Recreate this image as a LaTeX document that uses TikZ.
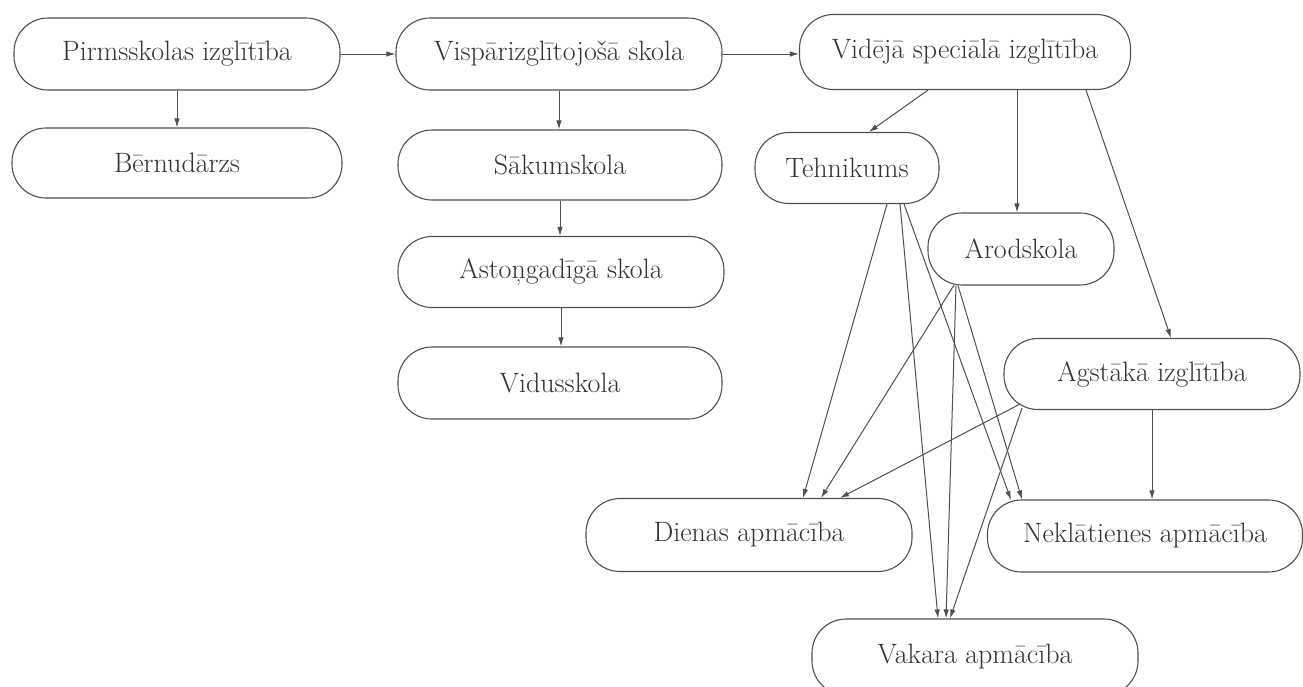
\documentclass[tikz,border=0pt]{standalone}
\usepackage{fontspec}
\usetikzlibrary{arrows.meta,calc}
\definecolor{ink}{HTML}{333333}
\definecolor{edge}{HTML}{505050}
\tikzset{
  pill/.style={draw=edge, line width=1.1pt, rounded corners=34pt, inner sep=0pt,
    minimum height=72pt, text=ink,
    font=\fontsize{28}{32}\selectfont\addfontfeature{FakeBold=0.4}},
  conn/.style={draw=edge, line width=1.0pt, -{Latex[length=9pt,width=5.5pt]}}
}
\begin{document}
\begin{tikzpicture}[x=1pt,y=-1pt]
\useasboundingbox[fill=white] (0,0) rectangle (1303,686);
% left column
\node[pill, minimum width=326pt] (P) at (177,54) {Pirmsskolas izglītība};
\node[pill, minimum width=330pt, minimum height=70pt] (B) at (177,163) {Bērnudārzs};
% middle column
\node[pill, minimum width=326pt] (V) at (559,54) {Vispārizglītojošā skola};
\node[pill, minimum width=324pt, minimum height=70pt] (S) at (560,165) {Sākumskola};
\node[pill, minimum width=326pt, minimum height=71pt] (A) at (561,272) {Astoņgadīgā skola};
\node[pill, minimum width=324pt] (Vd) at (560,383) {Vidusskola};
% right part
\node[pill, minimum width=331pt, minimum height=75pt] (VS) at (965,52) {Vidējā speciālā izglītība};
\node[pill, minimum width=184pt, minimum height=71pt] (T) at (847,168) {Tehnikums};
\node[pill, minimum width=186pt] (Ar) at (1021,249) {Arodskola};
\node[pill, minimum width=296pt, minimum height=71pt] (Ag) at (1152,374) {Agstākā izglītība};
\node[pill, minimum width=326pt, minimum height=73pt] (D) at (749,535) {Dienas apmācība};
\node[pill, minimum width=315pt] (N) at (1145,536) {Neklātienes apmācība};
\node[pill, minimum width=326pt, minimum height=76pt] (Vk) at (975,657) {Vakara apmācība};
% top row connectors
\draw[conn] (P.east) -- (V.west);
\draw[conn] (V.east) -- (V.east -| VS.west);
\draw[conn] (P.south) -- (P.south |- B.north);
\draw[conn] (V.south) -- (V.south |- S.north);
\draw[conn] (S.south) -- (S.south |- A.north);
\draw[conn] (A.south) -- (A.south |- Vd.north);
% from Videja speciala
\draw[conn] ([xshift=-37pt]VS.south) -- ([xshift=22pt]T.north);
\draw[conn] ([xshift=52pt]VS.south) -- ([xshift=52pt]VS.south |- Ar.north);
\draw[conn] ([xshift=121pt]VS.south) -- ([xshift=19pt]Ag.north);
% from Tehnikums
\draw[conn] ([xshift=40pt]T.south) -- ([xshift=54pt]D.north);
\draw[conn] ([xshift=53pt]T.south) -- ([xshift=-37pt]Vk.north);
\draw[conn] ([xshift=57pt]T.south) -- ([xshift=-134pt,yshift=-0.5pt]N.north);
% from Arodskola
\draw[conn] ([xshift=-67pt,yshift=0.5pt]Ar.south) -- ([xshift=72pt]D.north);
\draw[conn] ([xshift=-65pt]Ar.south) -- ([xshift=-29pt]Vk.north);
\draw[conn] ([xshift=-63pt]Ar.south) -- ([xshift=-123pt]N.north);
% from Agstaka
\draw[conn] ([xshift=-132pt,yshift=6pt]Ag.south) -- ([xshift=91pt]D.north);
\draw[conn] ([xshift=-130pt,yshift=2pt]Ag.south) -- ([xshift=-25pt]Vk.north);
\draw[conn] (Ag.south) -- (Ag.south |- N.north);
\end{tikzpicture}
\end{document}
